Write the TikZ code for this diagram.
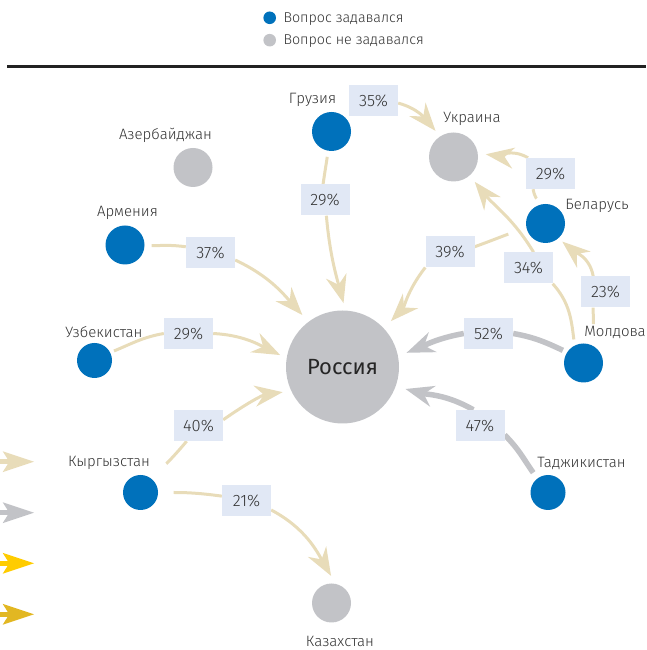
\documentclass[tikz,border=0pt]{standalone}
\usepackage{fontspec}
\setmainfont{Fira Sans Light}
\newfontfamily\rusfam{Fira Sans}
\usetikzlibrary{arrows.meta}
\pgfdeclarelayer{bg}
\pgfsetlayers{bg,main}
\definecolor{qblue}{HTML}{0071BB}
\definecolor{qgrey}{HTML}{C2C3C7}
\definecolor{beige}{HTML}{E8DCB9}
\definecolor{lbox}{HTML}{E1E8F5}
\definecolor{txt}{HTML}{333333}
\definecolor{yel}{HTML}{FFCC00}
\definecolor{gold}{HTML}{E2B722}
\definecolor{rulec}{HTML}{222222}
\newcommand\ctryfont{\fontsize{15}{18}\selectfont}
\newcommand\pctfont{\fontsize{16.5}{18}\selectfont}
\newcommand\rusfont{\rusfam\fontsize{22}{26}\selectfont}
\newcommand\legfont{\fontsize{14.3}{16}\selectfont}
\tikzset{
  cb/.style={circle, fill=qblue, inner sep=0pt, minimum size=#1},
  cb/.default=39pt,
  cg/.style={circle, fill=qgrey, inner sep=0pt, minimum size=#1},
  cg/.default=39pt,
  lbl/.style={fill=lbox, minimum width=49pt, minimum height=31pt, inner sep=0pt, font=\pctfont, text=txt},
  ctry/.style={inner sep=0pt, anchor=base, font=\ctryfont, text=txt},
  leg/.style={inner sep=0pt, anchor=base west, font=\legfont, text=txt},
  ln/.style={draw=beige, line width=3pt},
  arr/.style={ln, -{Stealth[length=28pt,width=21pt,inset=9pt]}},
  gln/.style={draw=qgrey, line width=5.5pt},
  garr/.style={gln, -{Stealth[length=28pt,width=21pt,inset=9pt]}},
  legarr/.style={line width=5pt, -{Stealth[length=31pt,width=20pt,inset=6pt]}}
}
\begin{document}
\begin{tikzpicture}[x=1pt,y=1pt]
\useasboundingbox (0,0) rectangle (646,650);
% legend
\node[cb=12.6pt] (dq) at (269.7,632.2) {};
\node[cg=12.6pt] (dn) at (269.7,609.8) {};
\node[leg] (tq) at (283.3,627.3) {Вопрос задавался};
\node[leg] (tn) at (283.3,605) {Вопрос не задавался};
\coordinate (r1) at (7.3,583.7);
\coordinate (r2) at (646,583.7);
\draw[line width=2.7pt, draw=rulec] (r1) -- (r2);
% country circles
\node[cb] (geo) at (331.5,518.5) {};
\node[cg=49pt] (ukr) at (453.5,493) {};
\node[cg] (aze) at (193,482.5) {};
\node[cb] (arm) at (125,405) {};
\node[cb] (bel) at (545.5,426.5) {};
\node[cb] (mol) at (583.5,287) {};
\node[cb=35pt] (uzb) at (94.5,289.5) {};
\node[cg=113pt, font=\rusfont, text=black!85] (rus) at (342.5,283) {Россия};
\node[cb=35pt] (kyr) at (140.5,157.5) {};
\node[cb=35pt] (taj) at (548,157.5) {};
\node[cg] (kaz) at (331.5,47) {};
% country names
\node[ctry] (tgeo) at (312.5,546) {Грузия};
\node[ctry] (tukr) at (472,527) {Украина};
\node[ctry] (taze) at (165.5,510) {Азербайджан};
\node[ctry] (tarm) at (127.5,433) {Армения};
\node[ctry] (tbel) at (597,440) {Беларусь};
\node[ctry] (tmol) at (615,313) {Молдова};
\node[ctry] (tuzb) at (104,312) {Узбекистан};
\node[ctry] (tkyr) at (109,183) {Кыргызстан};
\node[ctry] (ttaj) at (581.5,182) {Таджикистан};
\node[ctry] (tkaz) at (340,3) {Казахстан};
% percentage labels
\node[lbl] (l35) at (373.5,549.5) {35\%};
\node[lbl] (l29a) at (325,450) {29\%};
\node[lbl] (l29b) at (550.5,476.5) {29\%};
\node[lbl] (l39) at (450,398) {39\%};
\node[lbl] (l34) at (528.5,382) {34\%};
\node[lbl] (l23) at (605.5,358) {23\%};
\node[lbl] (l52) at (488.5,316.5) {52\%};
\node[lbl] (l47) at (480,224.5) {47\%};
\node[lbl] (l37) at (210.5,397.5) {37\%};
\node[lbl] (l29c) at (188.5,316.5) {29\%};
\node[lbl] (l40) at (198.5,224.5) {40\%};
\node[lbl] (l21) at (246.5,149.5) {21\%};
\begin{pgfonlayer}{bg}
% Georgia
\draw[arr, shorten >=7pt] (l35.-6) to[out=-15,in=130] (ukr.123);
\draw[ln, shorten <=6pt] (geo.260) to[out=262,in=82] (l29a.97);
\draw[arr, shorten >=7.5pt] (l29a.-85) to[out=-85,in=105] (rus.87);
% Belarus
\draw[ln, shorten <=7pt] (bel.113) to[out=100,in=280] (l29b.222);
\draw[arr, shorten >=8pt] (l29b.145) to[out=150,in=-8] (ukr.9);
\draw[ln, shorten <=19pt] (bel.197) to[out=195,in=20] (l39.12);
\draw[arr, shorten >=10pt] (l39.212) to[out=232,in=46] (rus.43);
% Moldova
\draw[ln, shorten <=6pt] (mol.117) to[out=97,in=-48] (l34.-33);
\draw[arr, shorten >=8pt] (l34.72) to[out=121,in=-51] (ukr.-49);
\draw[ln, shorten <=29pt] (mol.60) to[out=90,in=-90] (l23.232);
\draw[arr, shorten >=5pt] (l23.128) to[out=100,in=-40] (bel.-49);
\draw[gln, shorten <=4.5pt] (mol.147) to[out=155,in=-10] (l52.east);
\draw[garr, shorten >=9pt] (l52.west) to[out=190,in=22] (rus.11);
% Tajikistan
\draw[gln, shorten <=7pt] (taj.127) to[out=126,in=-45] (l47.-21);
\draw[garr, shorten >=10pt] (l47.113) to[out=150,in=-15] (rus.-20);
% Armenia
\draw[ln, shorten <=7pt] (arm.-2) to[out=0,in=172] (l37.167);
\draw[arr, shorten >=9pt] (l37.-17) to[out=-25,in=132] (rus.127);
% Uzbekistan
\draw[ln, shorten <=4pt] (uzb.27) to[out=22,in=190] (l29c.west);
\draw[arr, shorten >=7pt] (l29c.east) to[out=-3,in=154] (rus.171);
% Kyrgyzstan
\draw[ln, shorten <=21pt] (kyr.46) to[out=50,in=230] (l40.233);
\draw[arr, shorten >=8.5pt] (l40.13) to[out=35,in=188] (rus.205);
\draw[ln, shorten <=15.5pt] (kyr.0) to[out=0,in=172] (l21.170);
\draw[arr, shorten >=9pt] (l21.-21) to[out=-28,in=120] (kaz.78);
\end{pgfonlayer}
% legend arrows
\coordinate (a1s) at (-3,188.3);  \coordinate (a1e) at (34.3,188.3);
\coordinate (a2s) at (-3,137.3);  \coordinate (a2e) at (34.3,137.3);
\coordinate (a3s) at (-3,86.7);   \coordinate (a3e) at (34.3,86.7);
\coordinate (a4s) at (-3,35.7);   \coordinate (a4e) at (34.3,35.7);
\draw[legarr, draw=beige, fill=beige] (a1s) -- (a1e);
\draw[legarr, draw=qgrey, fill=qgrey] (a2s) -- (a2e);
\draw[legarr, draw=yel, fill=yel] (a3s) -- (a3e);
\draw[legarr, draw=gold, fill=gold] (a4s) -- (a4e);
\end{tikzpicture}
\end{document}
